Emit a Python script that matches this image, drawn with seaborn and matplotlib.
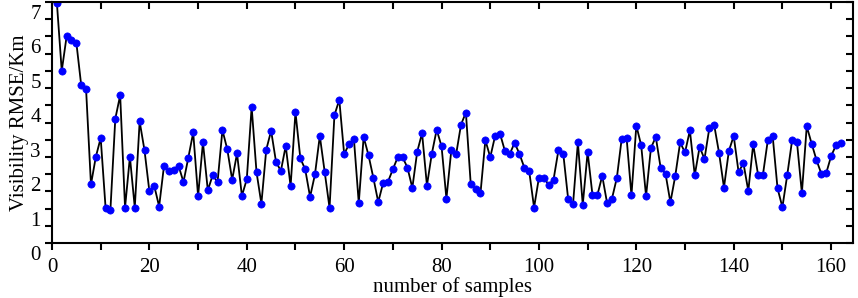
import matplotlib
matplotlib.use("Agg")
import matplotlib.pyplot as plt
import matplotlib.transforms as mtransforms
import seaborn as sns
import pandas as pd
from matplotlib.ticker import MultipleLocator

samples = list(range(1, 163))
rmse = [
    6.98, 5.00, 6.00, 5.90, 5.82, 4.58, 4.46, 1.70, 2.50, 3.05,
    1.03, 0.97, 3.61, 4.29, 1.03, 2.50, 1.03, 3.53, 2.69, 1.50,
    1.66, 1.06, 2.24, 2.08, 2.13, 2.24, 1.77, 2.48, 3.21, 1.36,
    2.92, 1.53, 1.97, 1.77, 3.28, 2.72, 1.84, 2.60, 1.37, 1.85,
    3.95, 2.06, 1.14, 2.71, 3.26, 2.36, 2.09, 2.82, 1.65, 3.80,
    2.46, 2.14, 1.34, 1.99, 3.11, 2.06, 1.02, 3.71, 4.16, 2.58,
    2.87, 3.03, 1.16, 3.08, 2.55, 1.89, 1.19, 1.74, 1.78, 2.14,
    2.49, 2.49, 2.19, 1.60, 2.65, 3.19, 1.67, 2.59, 3.29, 2.81,
    1.29, 2.69, 2.58, 3.44, 3.79, 1.70, 1.57, 1.45, 2.99, 2.49,
    3.11, 3.18, 2.68, 2.58, 2.91, 2.59, 2.19, 2.09, 1.03, 1.90,
    1.90, 1.69, 1.84, 2.69, 2.59, 1.28, 1.12, 2.92, 1.11, 2.64,
    1.39, 1.39, 1.95, 1.16, 1.29, 1.89, 3.03, 3.06, 1.38, 3.41,
    2.84, 1.36, 2.76, 3.08, 2.18, 2.01, 1.18, 1.95, 2.92, 2.63,
    3.27, 1.97, 2.79, 2.44, 3.34, 3.42, 2.61, 1.61, 2.67, 3.11,
    2.06, 2.32, 1.51, 2.87, 1.98, 1.98, 2.98, 3.11, 1.59, 1.04,
    1.98, 2.99, 2.92, 1.45, 3.39, 2.89, 2.41, 2.01, 2.03, 2.52,
    2.84, 2.91,
]
x_ticks = [0, 20, 40, 60, 80, 100, 120, 140, 160]
y_ticks = [0, 1, 2, 3, 4, 5, 6, 7]

sns.set_style("ticks")
plt.rcParams["font.family"] = ["Liberation Serif", "DejaVu Serif"]
for key in ["text.color", "axes.labelcolor", "xtick.color", "ytick.color",
            "xtick.labelcolor", "ytick.labelcolor", "axes.edgecolor"]:
    plt.rcParams[key] = "black"

df = pd.DataFrame({"samples": samples, "rmse": rmse})

fig = plt.figure(figsize=(8.58, 2.98), dpi=100)
ax = fig.add_axes([52 / 858, 1 - 243 / 298, (853 - 52) / 858, (243 - 2) / 298])

sns.lineplot(data=df, x="samples", y="rmse", ax=ax, color="black", linewidth=1.3,
             marker="o", markersize=5.2, markerfacecolor="#0000ff",
             markeredgecolor="#0000ff", markeredgewidth=0.5)

ax.set_xlim(0, 164.5)
ax.set_ylim(0, 7)
ax.set_xticks(x_ticks)
ax.set_yticks(y_ticks)
ax.xaxis.set_minor_locator(MultipleLocator(10))
ax.yaxis.set_minor_locator(MultipleLocator(0.5))

for side in ["left", "right", "top", "bottom"]:
    ax.spines[side].set_visible(True)
    ax.spines[side].set_linewidth(1.5)
    ax.spines[side].set_color("black")

ax.tick_params(axis="both", which="both", direction="out", length=5, width=1.5,
               color="black", labelsize=15, labelcolor="black")
ax.tick_params(axis="x", which="both", top=True, pad=6)
ax.tick_params(axis="y", which="both", right=True, pad=3)
# top & right ticks point inward
for t in ax.xaxis.get_major_ticks() + ax.xaxis.get_minor_ticks():
    t.tick2line.set_marker(3)
for t in ax.yaxis.get_major_ticks() + ax.yaxis.get_minor_ticks():
    t.tick2line.set_marker(0)

# y tick labels sit slightly below their ticks in the reference
offset = mtransforms.ScaledTranslation(0, -10 / 100, fig.dpi_scale_trans)
for lab in ax.get_yticklabels():
    lab.set_transform(lab.get_transform() + offset)

ax.set_xlabel("number of samples", fontsize=15, labelpad=0)
ax.set_ylabel("Visibility RMSE/Km", fontsize=15, labelpad=1)

fig.savefig("out.png", dpi=100)
